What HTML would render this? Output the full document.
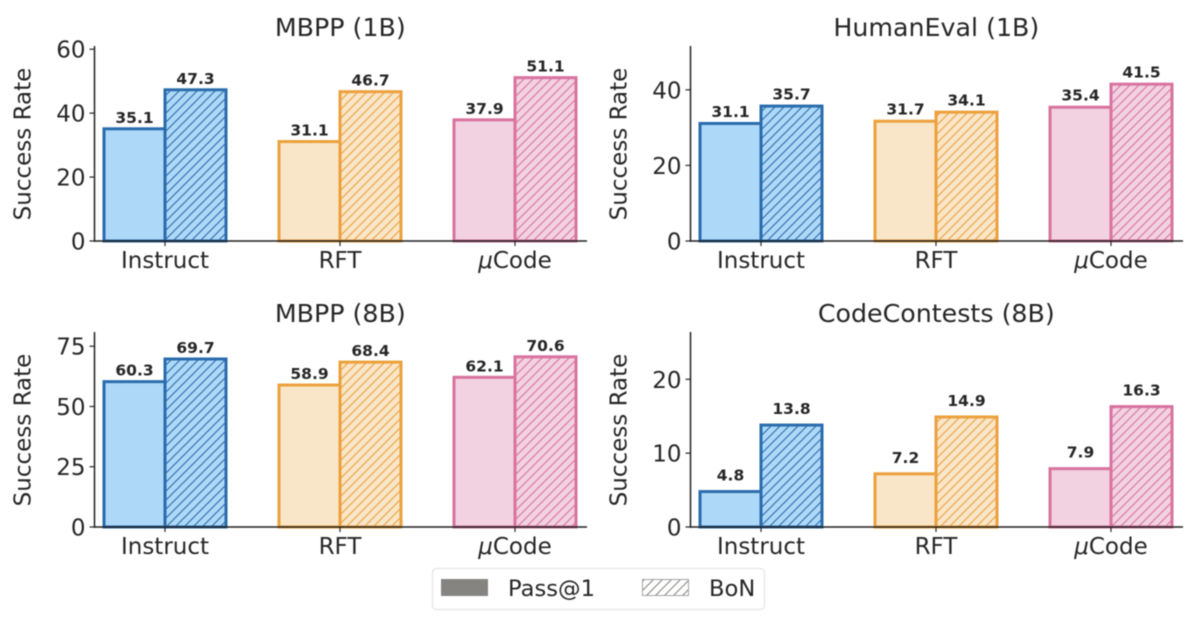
<!DOCTYPE html>
<html>
<head>
<meta charset="utf-8">
<title>Success Rate Chart</title>
<style>
html,body{margin:0;padding:0;background:#fff;width:1200px;height:621px;overflow:hidden}
svg{display:block;font-family:"DejaVu Sans","Liberation Sans",sans-serif;filter:blur(0.4px)}
</style>
</head>
<body>
<svg id="chart" width="1200" height="621" viewBox="0 0 1200 621" xmlns="http://www.w3.org/2000/svg">
<defs>
<pattern id="hatch-blue" patternUnits="userSpaceOnUse" width="9" height="9"><rect width="9" height="9" fill="#aed8f7"/><path d="M-1,10 L10,-1 M-3,3 L3,-3 M6,12 L12,6" fill="none" stroke="#2a6cad" stroke-width="1.1"/></pattern>
<pattern id="hatch-orange" patternUnits="userSpaceOnUse" width="9" height="9"><rect width="9" height="9" fill="#f9e5c8"/><path d="M-1,10 L10,-1 M-3,3 L3,-3 M6,12 L12,6" fill="none" stroke="#eba13c" stroke-width="1.1"/></pattern>
<pattern id="hatch-pink" patternUnits="userSpaceOnUse" width="9" height="9"><rect width="9" height="9" fill="#f2d2e0"/><path d="M-1,10 L10,-1 M-3,3 L3,-3 M6,12 L12,6" fill="none" stroke="#d9739f" stroke-width="1.1"/></pattern>
<pattern id="hatch-gray" patternUnits="userSpaceOnUse" width="9" height="9"><rect width="9" height="9" fill="#ffffff"/><path d="M-1,10 L10,-1 M-3,3 L3,-3 M6,12 L12,6" fill="none" stroke="#8a8986" stroke-width="1.1"/></pattern>
</defs>
<g id="plots"></g>
<g>
<rect x="432.5" y="568.5" width="332" height="41" rx="4" fill="#fff" stroke="#e6e6e6" stroke-width="1.3"/>
<rect x="441" y="579" width="47" height="17" fill="#858480"/>
<text x="508" y="596" font-size="22.6" fill="#262626">Pass@1</text>
<rect x="642.5" y="579.5" width="46" height="16" fill="url(#hatch-gray)" stroke="#a5a4a1" stroke-width="1"/>
<text x="709" y="596" font-size="22.6" fill="#262626">BoN</text>
</g>
</svg>
<script>
const categories = ["Instruct", "RFT", "Code"];
const panelTitles = ["MBPP (1B)", "HumanEval (1B)", "MBPP (8B)", "CodeContests (8B)"];
const passAt1Values = [[35.1, 31.1, 37.9], [31.1, 31.7, 35.4], [60.3, 58.9, 62.1], [4.8, 7.2, 7.9]];
const bonValues = [[47.3, 46.7, 51.1], [35.7, 34.1, 41.5], [69.7, 68.4, 70.6], [13.8, 14.9, 16.3]];
const yTicks = [[0, 20, 40, 60], [0, 20, 40], [0, 25, 50, 75], [0, 10, 20]];
const yMaxima = [61, 51.6, 80.9, 26.4];

const panelLayouts = [
  {left: 94.5, right: 587, top: 46, bottom: 241, gap: 6},
  {left: 690.5, right: 1183, top: 46, bottom: 241, gap: 6.5},
  {left: 94.5, right: 587, top: 332, bottom: 527, gap: 6},
  {left: 690.5, right: 1183, top: 332, bottom: 527, gap: 11}
];
const palette = [
  {fill: "#aed8f7", edge: "#2a6cad", hatch: "hatch-blue"},
  {fill: "#f9e5c8", edge: "#eba13c", hatch: "hatch-orange"},
  {fill: "#f2d2e0", edge: "#d9739f", hatch: "hatch-pink"}
];
const NS = "http://www.w3.org/2000/svg";
const root = document.getElementById("plots");

function make(tag, attrs, parent, text) {
  const el = document.createElementNS(NS, tag);
  for (const k in attrs) el.setAttribute(k, attrs[k]);
  if (text !== undefined) el.textContent = text;
  parent.appendChild(el);
  return el;
}

panelTitles.forEach(function (title, p) {
  const L = panelLayouts[p];
  const yScale = function (v) { return L.bottom - (v / yMaxima[p]) * (L.bottom - L.top); };
  const xCenter = function (i) { return L.left + 70.5 + i * 175; };
  const barW = 61;

  const g = make("g", {}, root);
  
  

  const titleEl = make("text", {x: L.left + 245.8, y: L.top - 10, "font-size": 25.3, fill: "#262626", "text-anchor": "middle"}, g, title);
  
  

  const yTitle = make("text", {transform: "translate(" + (L.left - 64) + "," + ((L.top + L.bottom) / 2 + 0.5) + ") rotate(-90)", "font-size": 23, fill: "#262626", "text-anchor": "middle"}, g, "Success Rate");
  
  

  categories.forEach(function (cat, i) {
    const cx = xCenter(i);
    const c = palette[i];
    const pv = passAt1Values[p][i];
    const bv = bonValues[p][i];

    const bar1 = make("rect", {x: cx - barW, y: yScale(pv), width: barW, height: L.bottom - yScale(pv), fill: c.fill, stroke: c.edge, "stroke-width": 3}, g);
    
    

    const bar2 = make("rect", {x: cx, y: yScale(bv), width: barW, height: L.bottom - yScale(bv), fill: "url(#" + c.hatch + ")", stroke: c.edge, "stroke-width": 3}, g);
    
    

    const label1 = make("text", {x: cx - barW / 2, y: yScale(pv) - L.gap, "font-size": 15.5, "font-weight": "bold", fill: "#262626", "text-anchor": "middle"}, g, pv.toFixed(1));
    
    

    const label2 = make("text", {x: cx + barW / 2, y: yScale(bv) - L.gap, "font-size": 15.5, "font-weight": "bold", fill: "#262626", "text-anchor": "middle"}, g, bv.toFixed(1));
    
    

    const xTick = make("line", {x1: cx, x2: cx, y1: L.bottom, y2: L.bottom + 5, stroke: "#262626", "stroke-width": 1.2}, g);
    
    

    const xLabel = make("text", {x: cx, y: L.bottom + 27, "font-size": 23, fill: "#262626", "text-anchor": "middle"}, g);
    
    
    if (cat === "Code") {
      make("tspan", {"font-style": "italic"}, xLabel, "\u03bc");
    }
    make("tspan", {}, xLabel, cat);
  });

  yTicks[p].forEach(function (t) {
    const y = yScale(t);
    const tick = make("line", {x1: L.left - 5, x2: L.left, y1: y, y2: y, stroke: "#262626", "stroke-width": 1.2}, g);
    
    

    const tl = make("text", {x: L.left - 9, y: y + 8.5, "font-size": 23, fill: "#262626", "text-anchor": "end"}, g, String(t));
    
    
  });

  const ySpine = make("line", {x1: L.left, x2: L.left, y1: L.top, y2: L.bottom + 0.8, stroke: "#222", "stroke-width": 1.5}, g);
  
  

  const xSpine = make("line", {x1: L.left - 0.8, x2: L.right, y1: L.bottom, y2: L.bottom, stroke: "#222", "stroke-width": 1.5}, g);
  
  
});
</script>
</body>
</html>
